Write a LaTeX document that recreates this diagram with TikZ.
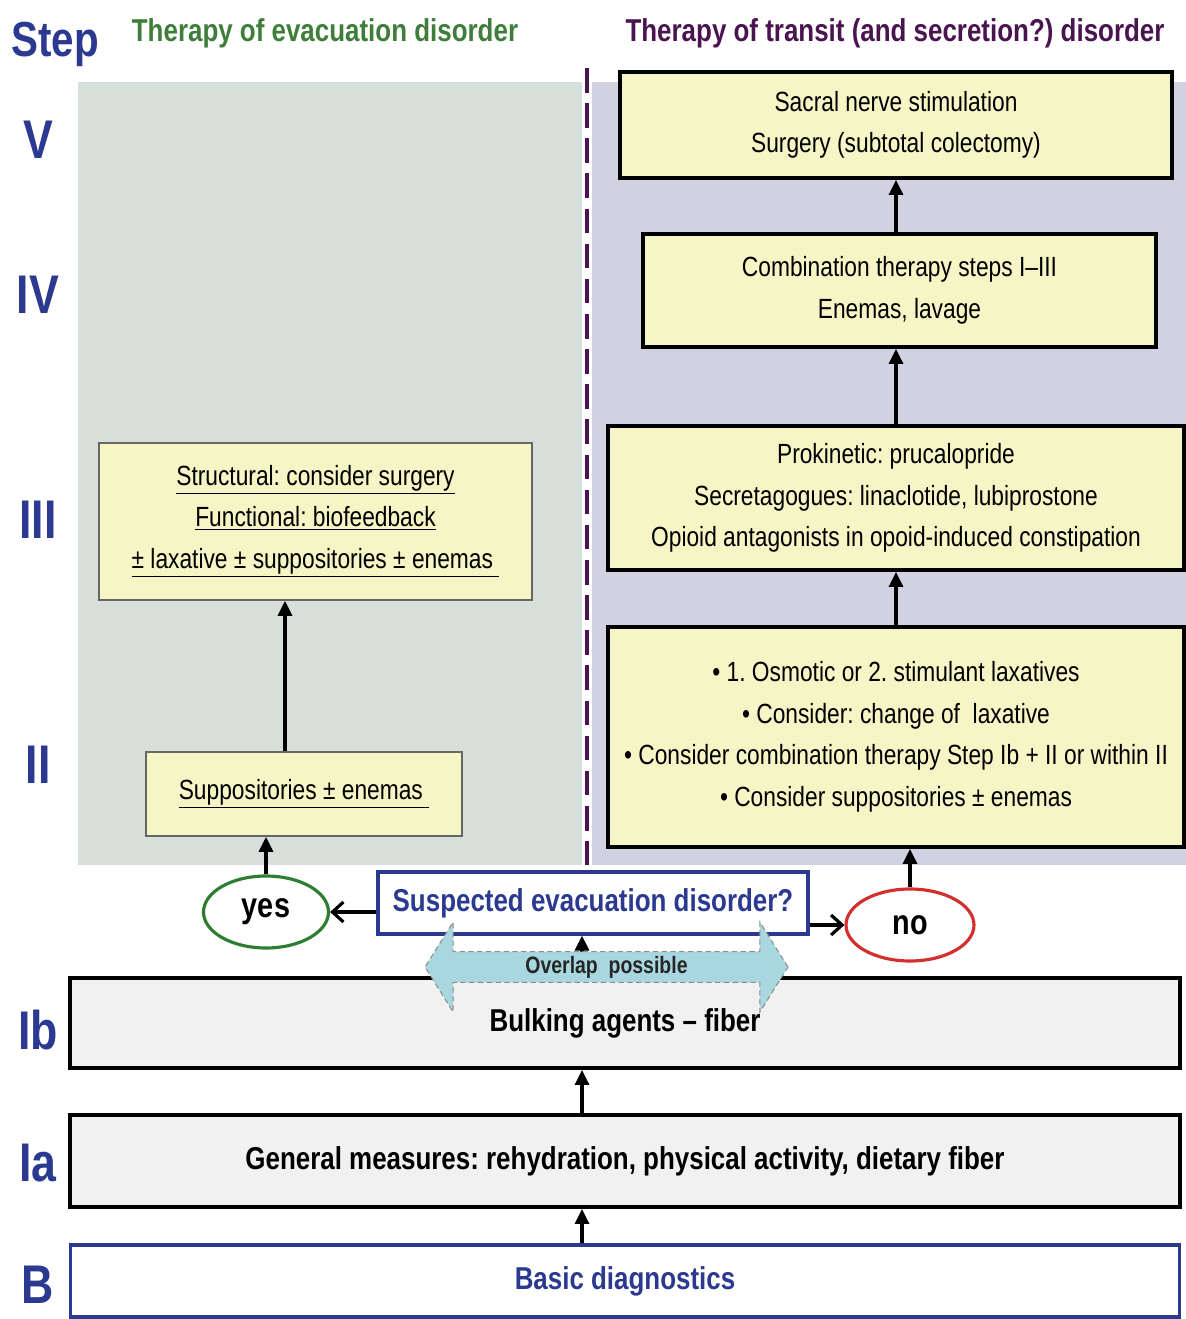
\documentclass[tikz,border=0pt]{standalone}
\usepackage{fontspec}
\setmainfont{Liberation Sans}[FakeStretch=0.82]
\usetikzlibrary{arrows.meta,positioning,shapes.arrows,shapes.geometric}
\frenchspacing
\definecolor{stepblue}{HTML}{2B3990}
\definecolor{evacgreen}{HTML}{3F7D3A}
\definecolor{transpurple}{HTML}{4A1450}
\definecolor{evacpanel}{HTML}{D6DFD9}
\definecolor{transpanel}{HTML}{D1D1E1}
\definecolor{boxyellow}{HTML}{F5F5C6}
\definecolor{boxgray}{HTML}{F1F1F1}
\definecolor{overlapblue}{HTML}{A9D7DF}
\definecolor{yesgreen}{HTML}{2F7D32}
\definecolor{nored}{HTML}{D32F2F}
\newcommand{\txtbody}{\fontsize{15.8}{23.6}\selectfont}
\newcommand{\txtbold}{\fontsize{18}{22}\selectfont\bfseries}
\newcommand{\txthead}{\fontsize{18}{22}\selectfont\bfseries}
\newcommand{\txtstep}{\fontsize{31}{34}\selectfont\bfseries}
\tikzset{
  steplabel/.style={font=\txtstep, text=stepblue, inner sep=0pt},
  transbox/.style={draw, line width=2.2pt, fill=boxyellow, align=center,
    font=\txtbody, inner sep=0pt},
  evacbox/.style={draw=black!60, line width=0.9pt, fill=boxyellow, align=center,
    font=\txtbody, inner sep=0pt},
  graybox/.style={draw, line width=2.2pt, fill=boxgray, font=\txtbold,
    minimum width=22.2cm, inner sep=0pt},
  bluebox/.style={draw=stepblue, line width=1.8pt, fill=white, font=\txtbold,
    text=stepblue, inner sep=0pt},
  answer/.style={ellipse, line width=1.8pt, fill=white,
    font=\fontsize{20}{24}\selectfont\bfseries, minimum width=2.5cm, minimum height=1.44cm},
  arr/.style={-{Triangle[length=3mm,width=2.8mm]}, line width=1.8pt},
  sidearr/.style={-{Straight Barb[length=2.2mm,width=4mm]}, line width=1.8pt},
  divider/.style={draw=transpurple, line width=2.2pt, dash pattern=on 14pt off 6pt}
}

\begin{document}
\begin{tikzpicture}[x=0.02cm, y=-0.02cm]
  \useasboundingbox (0,0) rectangle (1186,1319);
  % background panels
  \fill[evacpanel] (78,82) rectangle (582,865);
  \fill[transpanel] (592,82) rectangle (1186,865);
  \draw[divider] (587,68) -- (587,865);

  % headings and step numbers
  \node[steplabel, font=\fontsize{28}{32}\selectfont\bfseries] (step) at (55,44) {Step};
  \node[font=\txthead, text=evacgreen] (evachead) at (325,33) {Therapy of evacuation disorder};
  \node[font=\txthead, text=transpurple] (transhead) at (895,33) {Therapy of transit (and secretion?) disorder};
  \foreach \lab/\ypos in {V/140, IV/295, III/520, II/765, Ib/1030, Ia/1163, B/1285}
    \node[steplabel] (step\lab) at (38,\ypos) {\lab};

  % transit side
  \node[transbox, minimum width=11.04cm, minimum height=2.12cm] (sacral) at (896,125)
    {Sacral nerve stimulation\\Surgery (subtotal colectomy)};
  \node[transbox, minimum width=10.26cm, minimum height=2.26cm] (combo) at (899.5,290.5)
    {Combination therapy steps I–III\\Enemas, lavage};
  \node[transbox, minimum width=11.52cm, minimum height=2.88cm] (prokin) at (896,498)
    {Prokinetic: prucalopride\\Secretagogues: linaclotide, lubiprostone\\Opioid antagonists in opoid-induced constipation};
  \node[transbox, minimum width=11.52cm, minimum height=4.4cm] (laxat) at (896,737)
    {\textbullet\ 1. Osmotic or 2. stimulant laxatives\\
     \textbullet\ Consider: change of\ \ laxative\\
     \textbullet\ Consider combination therapy Step Ib + II or within II\\
     \textbullet\ Consider suppositories ± enemas};

  % evacuation side
  \node[evacbox, minimum width=8.66cm, minimum height=3.14cm] (struct) at (315.5,521.5)
    {\underline{Structural: consider surgery}\\\underline{Functional: biofeedback}\\\underline{± laxative ± suppositories ± enemas\ }};
  \node[evacbox, minimum width=6.32cm, minimum height=1.68cm] (suppos) at (304,794)
    {\underline{Suppositories ± enemas\ }};

  % decision
  \node[bluebox, minimum width=8.6cm, minimum height=1.24cm] (suspect) at (593,903)
    {Suspected evacuation disorder?};
  \node[answer, draw=yesgreen] (yes) at (266,912) {yes};
  \node[answer, draw=nored, minimum width=2.56cm] (no) at (910,925) {no};

  % common steps
  \node[graybox, minimum height=1.8cm] (bulking) at (625,1023) {Bulking agents – fiber};
  \node[graybox, minimum height=1.84cm] (general) at (625,1161)
    {General measures: rehydration, physical activity, dietary fiber};
  \node[bluebox, minimum width=22.2cm, minimum height=1.44cm] (diag) at (625,1281) {Basic diagnostics};

  \coordinate (midx) at (582,0);
  \coordinate (evacx) at (285,0);
  \draw[arr] (diag.north -| midx) -- (general.south -| midx);
  \draw[arr] (general.north -| midx) -- (bulking.south -| midx);
  \draw[arr] (bulking.north -| midx) -- (suspect.south -| midx);
  \draw[sidearr] (suspect.west |- yes) -- (yes.east);
  \draw[sidearr] (suspect.east |- no) -- (no.west);
  \draw[arr] (yes.north) -- (suppos.south -| yes.north);
  \draw[arr] (suppos.north -| evacx) -- (struct.south -| evacx);
  \draw[arr] (no.north) -- (laxat.south -| no.north);
  \draw[arr] (laxat.north) -- (prokin.south);
  \draw[arr] (prokin.north) -- (combo.south -| prokin.north);
  \draw[arr] (combo.north -| sacral.south) -- (sacral.south);

  % overlap marker
  \node[double arrow, double arrow tip angle=116, double arrow head extend=0.45cm,
    minimum height=7.26cm, minimum width=1.8cm, inner sep=0pt,
    fill=overlapblue, draw=black!45, densely dashed, line width=0.6pt,
    font=\fontsize{13.5}{16}\selectfont\bfseries, text=black!85] (overlap) at (606.5,967)
    {\raisebox{-3pt}{Overlap\ \ possible}};
\end{tikzpicture}
\end{document}
